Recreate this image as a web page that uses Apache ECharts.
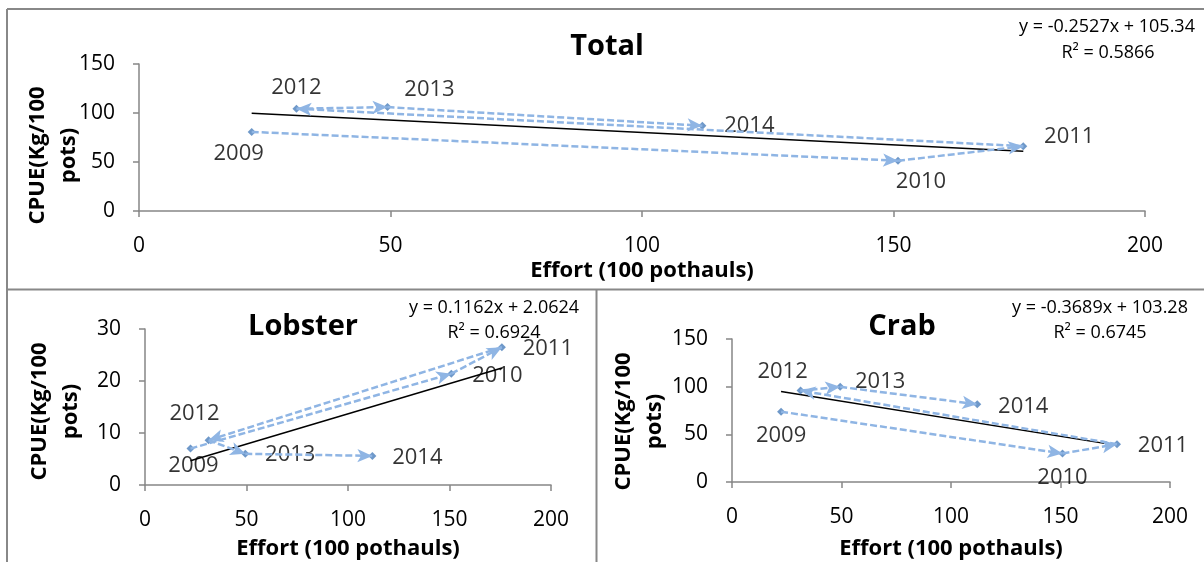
<!DOCTYPE html>
<html>
<head>
<meta charset="utf-8">
<script src="https://cdn.jsdelivr.net/npm/echarts@6/dist/echarts.min.js"></script>
<style>
  html, body { margin: 0; padding: 0; background: #fff; }
  #chart { width: 1204px; height: 562px; }
</style>
</head>
<body>
<div id="chart"></div>
<script>
// Survey years and fishing effort (100 pothauls), shared by all three panels
const years = ['2009', '2010', '2011', '2012', '2013', '2014'];
const effort = [22.4, 150.9, 175.8, 31.3, 49.4, 112.0];

// Catch per unit effort (kg per 100 pots)
const cpueTotal = [80.7, 51.3, 66.1, 104.4, 106.0, 87.0];
const cpueLobster = [7.0, 21.4, 26.5, 8.6, 6.0, 5.6];
const cpueCrab = [73.8, 29.9, 39.7, 95.9, 99.8, 81.5];

// Linear trend fits: slope, intercept, R²
const fitTotal = [-0.2527, 105.34, 0.5866];
const fitLobster = [0.1162, 2.0624, 0.6924];
const fitCrab = [-0.3689, 103.28, 0.6745];

// Axis ticks
const xTicks = [0, 50, 100, 150, 200];
const yTicksTotal = [0, 50, 100, 150];
const yTicksLobster = [0, 10, 20, 30];
const yTicksCrab = [0, 50, 100, 150];

const FONT = "'Open Sans', 'Noto Sans', sans-serif";
const AXIS_GREY = '#868686';
const ARROW_BLUE = '#8FB5E4';
const MARKER_BLUE = '#4A7EBB';

// Panel layout: plot rectangles, text anchors and year-label nudges
const panels = [
  {
    title: 'Total', cpue: cpueTotal, fit: fitTotal, yTicks: yTicksTotal,
    grid: { left: 139, top: 64, width: 1006, height: 147 },
    titleAt: [607, 47], eqAt: [1107, 27], r2At: [1108, 53],
    xNameGap: 46, yNameGap: 55, yNameShift: 36,
    labelNudge: [[-13, 22], [23, 21], [46, -9], [0, -21], [42, -17], [47, 0]]
  },
  {
    title: 'Lobster', cpue: cpueLobster, fit: fitLobster, yTicks: yTicksLobster,
    grid: { left: 145, top: 329, width: 406, height: 156 },
    titleAt: [303, 327], eqAt: [494, 308], r2At: [494, 333],
    xNameGap: 52, yNameGap: 59, yNameShift: 9,
    labelNudge: [[3, 17], [46, 2], [46, 2], [-14, -27], [45, 1], [45, 2]]
  },
  {
    title: 'Crab', cpue: cpueCrab, fit: fitCrab, yTicks: yTicksCrab,
    grid: { left: 732, top: 339, width: 438, height: 143 },
    titleAt: [902, 327], eqAt: [1100, 308], r2At: [1100, 333],
    xNameGap: 55, yNameGap: 62, yNameShift: 22,
    labelNudge: [[0, 24], [0, 24], [46, 2], [-18, -19], [40, -5], [46, 2]]
  }
];

function axisCommon() {
  return {
    axisLine: { show: true, onZero: false, lineStyle: { color: AXIS_GREY, width: 1.5 } },
    axisTick: { show: true, length: 6, lineStyle: { color: AXIS_GREY, width: 1.5 } },
    splitLine: { show: false },
    axisLabel: { color: '#000', fontSize: 21, fontFamily: FONT, lineHeight: 24 },
    nameLocation: 'middle',
    nameTextStyle: { color: '#000', fontSize: 22, fontWeight: 'bold', fontFamily: FONT, lineHeight: 24 }
  };
}

const grids = [], xAxes = [], yAxes = [], series = [], graphics = [];

panels.forEach((p, k) => {
  grids.push(Object.assign({ containLabel: false, outerBoundsMode: 'none' }, p.grid));

  const xa = axisCommon();
  Object.assign(xa, {
    type: 'value', gridIndex: k,
    min: xTicks[0], max: xTicks[xTicks.length - 1], interval: xTicks[1] - xTicks[0],
    name: 'Effort (100 pothauls)', nameGap: p.xNameGap
  });
  xa.axisLabel = Object.assign({}, xa.axisLabel, { margin: 23 });
  xAxes.push(xa);

  const ya = axisCommon();
  Object.assign(ya, {
    type: 'value', gridIndex: k,
    min: p.yTicks[0], max: p.yTicks[p.yTicks.length - 1], interval: p.yTicks[1] - p.yTicks[0],
    name: 'CPUE(Kg/100\npots)', nameGap: p.yNameGap, nameRotate: 90, nameMoveOverlap: false
  });
  ya.axisLabel = Object.assign({}, ya.axisLabel, { margin: 24 });
  ya.nameTextStyle = Object.assign({}, ya.nameTextStyle, {
    lineHeight: 31, padding: [0, p.yNameShift, 0, 0]
  });
  yAxes.push(ya);

  // Linear trend line across the effort range
  const xLo = Math.min(...effort), xHi = Math.max(...effort);
  series.push({
    type: 'line', xAxisIndex: k, yAxisIndex: k, z: 2,
    data: [[xLo, p.fit[0] * xLo + p.fit[1]], [xHi, p.fit[0] * xHi + p.fit[1]]],
    showSymbol: false, silent: true,
    lineStyle: { color: '#000', width: 1.5 },
    itemStyle: { color: '#000' }
  });

  // Year-to-year arrows, one dashed segment per consecutive pair of years
  const arrows = [];
  for (let i = 0; i < years.length - 1; i++) {
    arrows.push([
      { coord: [effort[i], p.cpue[i]], symbol: 'none' },
      { coord: [effort[i + 1], p.cpue[i + 1]], symbol: 'arrow', symbolSize: [10, 15] }
    ]);
  }

  series.push({
    type: 'scatter', xAxisIndex: k, yAxisIndex: k, z: 4,
    symbol: 'diamond', symbolSize: [8, 8],
    itemStyle: { color: MARKER_BLUE },
    data: effort.map((x, i) => ({
      value: [x, p.cpue[i]],
      name: years[i],
      label: { offset: p.labelNudge[i] }
    })),
    label: {
      show: true, position: 'inside',
      formatter: (d) => d.name,
      color: '#000', fontSize: 22, fontFamily: FONT
    },
    emphasis: { disabled: true },
    markLine: {
      silent: true, animation: false,
      symbol: ['none', 'arrow'],
      symbolSize: 12,
      label: { show: false },
      emphasis: { disabled: true },
      itemStyle: { color: ARROW_BLUE },
      lineStyle: { color: ARROW_BLUE, width: 2.5, type: [7, 3] },
      data: arrows
    }
  });

  // Panel title
  graphics.push({
    type: 'text', x: p.titleAt[0], y: p.titleAt[1], z: 10,
    style: { text: p.title, fill: '#000', font: 'bold 29px ' + FONT, align: 'center', verticalAlign: 'middle' }
  });
  // Fit equation and R²
  const slope = p.fit[0], icpt = p.fit[1];
  graphics.push({
    type: 'text', x: p.eqAt[0], y: p.eqAt[1], z: 10,
    style: { text: 'y = ' + slope + 'x + ' + icpt, fill: '#000', font: '18px ' + FONT, align: 'center', verticalAlign: 'middle' }
  });
  graphics.push({
    type: 'text', x: p.r2At[0], y: p.r2At[1], z: 10,
    style: { text: 'R² = ' + p.fit[2], fill: '#000', font: '18px ' + FONT, align: 'center', verticalAlign: 'middle' }
  });
});

// Panel frames
const frame = { stroke: '#888', lineWidth: 2 };
graphics.push(
  { type: 'line', shape: { x1: 7, y1: 9, x2: 1204, y2: 9 }, style: frame },
  { type: 'line', shape: { x1: 7, y1: 9, x2: 7, y2: 562 }, style: frame },
  { type: 'line', shape: { x1: 7, y1: 289.5, x2: 1204, y2: 289.5 }, style: frame },
  { type: 'line', shape: { x1: 596.5, y1: 289.5, x2: 596.5, y2: 562 }, style: frame }
);

const chart = echarts.init(document.getElementById('chart'), null, { renderer: 'canvas' });
chart.setOption({
  animation: false,
  backgroundColor: '#fff',
  textStyle: { fontFamily: FONT },
  grid: grids,
  xAxis: xAxes,
  yAxis: yAxes,
  series: series,
  graphic: graphics
});
</script>
</body>
</html>
